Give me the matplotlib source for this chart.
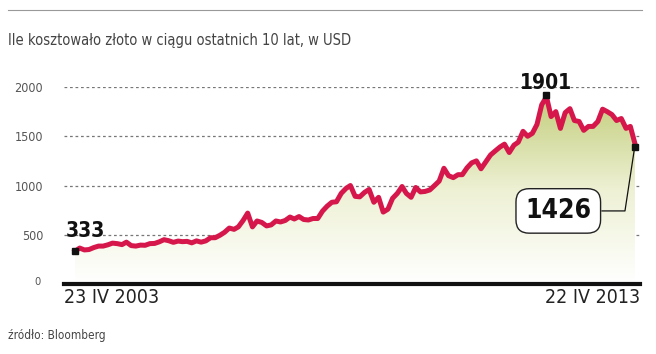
import matplotlib
matplotlib.use("Agg")
import matplotlib.pyplot as plt
from matplotlib.colors import LinearSegmentedColormap
import matplotlib.dates as mdates
import numpy as np
import pandas as pd

plt.rcParams["font.family"] = ["DejaVu Sans"]
plt.rcParams["font.stretch"] = "condensed"

# monthly gold price, USD per ounce
prices = [
    333, 365, 346, 350, 370, 385, 385, 398, 415,
    410, 400, 425, 390, 385, 395, 393, 410, 412, 428, 450, 440,
    423, 436, 430, 433, 418, 438, 425, 438, 470, 470, 495, 525,
    568, 555, 580, 645, 720, 580, 640, 625, 590, 600, 640, 630,
    645, 680, 660, 685, 655, 650, 665, 665, 740, 790, 830, 835,
    920, 970, 1000, 890, 885, 930, 960, 830, 880, 730, 760, 870,
    920, 990, 920, 880, 980, 935, 940, 955, 1000, 1045, 1175, 1100,
    1080, 1110, 1110, 1180, 1230, 1250, 1170, 1240, 1310, 1350, 1390, 1420,
    1335, 1410, 1440, 1550, 1500, 1530, 1620, 1820, 1901, 1700, 1750, 1580,
    1740, 1780, 1660, 1650, 1560, 1600, 1600, 1650, 1775, 1750, 1720, 1660,
    1680, 1580, 1600, 1426,
]
dates = list(pd.date_range("2003-04-23", periods=len(prices) - 1,
                           freq=pd.DateOffset(months=1)))
dates.append(pd.Timestamp("2013-04-22"))
dates = pd.to_datetime(dates)

yticks = [0, 500, 1000, 1500, 2000]
title = "Ile kosztowało złoto w ciągu ostatnich 10 lat, w USD"
source = "źródło: Bloomberg"
start_label = "23 IV 2003"
end_label = "22 IV 2013"

line_color = "#d5174c"
grey = "#555555"

fig = plt.figure(figsize=(6.56, 3.54), dpi=100)
ax = fig.add_axes([0.0976, 0.1977, 0.878, 0.5565])

xnum = mdates.date2num(dates)
x0 = xnum[0] - 72
x1 = xnum[-1] + 33
ax.set_xlim(x0, x1)
ax.set_ylim(0, 2000)

# gradient fill under the line
cmap = LinearSegmentedColormap.from_list("gold", ["#ffffff", "#eef1d4", "#c3cd7c"])
grad = np.linspace(0, 1, 256).reshape(-1, 1)
img = ax.imshow(grad, extent=[x0, x1, 0, 1900], origin="lower", aspect="auto",
                cmap=cmap, zorder=1)
poly = ax.fill_between(xnum, prices, 0, color="none", lw=0)
img.set_clip_path(poly.get_paths()[0], transform=ax.transData)

# grid
for v in yticks[1:]:
    ax.axhline(v, color="#777777", lw=0.9, ls=(0, (2.2, 2.2)), zorder=0.5)

ax.plot(xnum, prices, color=line_color, lw=3.6, solid_joinstyle="round", zorder=3)

for s in ax.spines.values():
    s.set_visible(False)
ax.axhline(0, color="#111111", lw=3, zorder=4, clip_on=False)

ax.set_xticks([])
ax.set_yticks(yticks[1:])
ax.set_yticklabels([str(v) for v in yticks[1:]], color=grey, fontsize=9)
ax.tick_params(axis="y", length=0, pad=15)
ax.text(-0.04, 0.01, "0", transform=ax.transAxes, ha="right", va="center",
        fontsize=8, color=grey)

ax.text(0, -0.02, start_label, transform=ax.transAxes, ha="left", va="top",
        fontsize=14, color="#222222")
ax.text(1, -0.02, end_label, transform=ax.transAxes, ha="right", va="top",
        fontsize=14, color="#222222")

# annotations
ax.plot(xnum[0], prices[0], marker="s", ms=5, color="#111111", zorder=5, clip_on=False)
ax.text(xnum[0] - 59, 478, "333", fontsize=15, fontweight="bold", color="#111111",
        ha="left", va="baseline", zorder=6)

imax = int(np.argmax(prices))
ax.plot(xnum[imax], prices[imax] + 20, marker="s", ms=5, color="#111111", zorder=5)
ax.text(xnum[imax], 1975, str(prices[imax]), fontsize=15, fontweight="bold",
        color="#111111", ha="center", va="baseline", zorder=6)

ax.plot(xnum[-1], prices[-1] - 30, marker="s", ms=5, color="#111111", zorder=5,
        clip_on=False)
ax.plot([xnum[-1] - 5, xnum[-1] - 65, xnum[-1] - 215],
        [prices[-1] - 70, 742, 742], color="#111111", lw=0.9, zorder=5)
ax.text(xnum[-1] - 500, 742, str(prices[-1]), fontsize=19, fontweight="bold",
        color="#111111", ha="center", va="center", zorder=6,
        bbox=dict(boxstyle="round,pad=0.35,rounding_size=0.5", fc="white",
                  ec="#222222", lw=1))

# header and footer
fig.add_artist(plt.Line2D([8 / 656, 642 / 656], [1 - 10 / 354] * 2, color="#999999",
                          lw=0.8))
fig.text(8 / 656, 1 - 40 / 354, title, fontsize=10.5, color="#444444", va="center")
fig.text(8 / 656, 1 - 335 / 354, source, fontsize=8.5, color="#444444", va="center")

fig.savefig("out.png", dpi=100)
